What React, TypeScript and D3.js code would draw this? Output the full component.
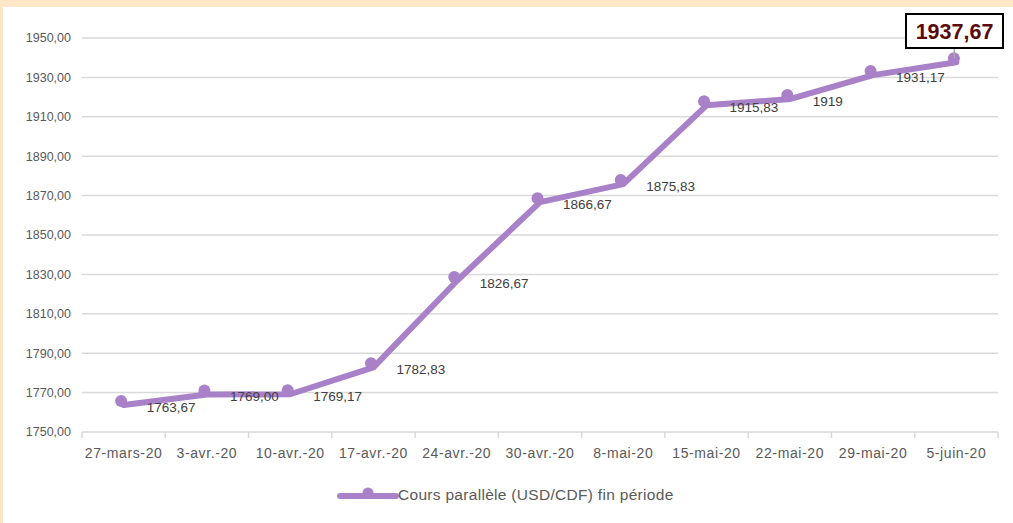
import React from "react";
import * as d3 from "d3";

const categories = [
  "27-mars-20", "3-avr.-20", "10-avr.-20", "17-avr.-20", "24-avr.-20", "30-avr.-20",
  "8-mai-20", "15-mai-20", "22-mai-20", "29-mai-20", "5-juin-20",
];
const values = [1763.67, 1769.0, 1769.17, 1782.83, 1826.67, 1866.67, 1875.83, 1915.83, 1919, 1931.17, 1937.67];
const valueLabels = ["1763,67", "1769,00", "1769,17", "1782,83", "1826,67", "1866,67", "1875,83", "1915,83", "1919", "1931,17", "1937,67"];
const yTicks = [1750, 1770, 1790, 1810, 1830, 1850, 1870, 1890, 1910, 1930, 1950];
const seriesName = "Cours parallèle (USD/CDF) fin période";

const W = 1013;
const H = 523;
const LINE = "#a981c8";
const FONT = "'Liberation Sans', Arial, sans-serif";

export default function App() {
  const x = d3.scaleBand<string>().domain(categories).range([82, 998]);
  const y = d3.scaleLinear().domain([1750, 1950]).range([432, 38]);
  const cx = (i: number) => (x(categories[i]) as number) + x.bandwidth() / 2;
  const line = d3
    .line<number>()
    .x((_, i) => cx(i))
    .y((d) => y(d));
  const last = values.length - 1;
  const boundaries = [...categories.map((c) => x(c) as number), 998];

  return (
    <div style={{ position: "fixed", left: 0, top: 0 }}>
      <svg width={W} height={H} style={{ display: "block" }}>
        <rect x={0} y={0} width={W} height={H} fill="#fee7c6" />
        <rect x={3} y={7} width={W - 3} height={H - 7} fill="#ffffff" />
        {yTicks.map((t) => (
          <g key={t}>
            <line x1={82} x2={998} y1={y(t)} y2={y(t)} stroke="#d9d9d9" strokeWidth={1.5} />
            <text x={71} y={y(t)} dy="0.35em" textAnchor="end" fontFamily={FONT} fontSize={12.5} fill="#595959">
              {d3.format(".2f")(t).replace(".", ",")}
            </text>
          </g>
        ))}
        {boundaries.map((b, i) => (
          <line key={i} x1={b} x2={b} y1={432} y2={438} stroke="#d9d9d9" strokeWidth={1.5} />
        ))}
        {categories.map((c, i) => (
          <text key={c} x={cx(i)} y={458} textAnchor="middle" fontFamily={FONT} fontSize={14} letterSpacing={0.6} fill="#595959">
            {c}
          </text>
        ))}
        <path d={line(values) || ""} fill="none" stroke={LINE} strokeWidth={6} strokeLinejoin="round" strokeLinecap="round" />
        {values.map((v, i) => (
          <circle key={i} cx={cx(i) - 2.5} cy={y(v) - 4} r={6} fill={LINE} />
        ))}
        {values.map((v, i) =>
          i === last ? null : (
            <text key={i} x={cx(i) + 23} y={y(v) + 2} dy="0.35em" fontFamily={FONT} fontSize={13.5} fill="#404040">
              {valueLabels[i]}
            </text>
          )
        )}
        <line x1={cx(last) - 2} x2={cx(last) - 2} y1={48} y2={y(values[last]) - 4} stroke="#a6a6a6" strokeWidth={1.5} />
        <rect x={906} y={14} width={97} height={34} fill="#ffffff" stroke="#000000" strokeWidth={2} />
        <text x={954.5} y={31} dy="0.36em" textAnchor="middle" fontFamily={FONT} fontWeight="bold" fontSize={21.5} fill="#5a0a0a">
          {valueLabels[last]}
        </text>
        <line x1={340} x2={396} y1={496} y2={496} stroke={LINE} strokeWidth={6} strokeLinecap="round" />
        <circle cx={368} cy={493} r={5.5} fill={LINE} />
        <text x={398} y={495} dy="0.35em" fontFamily={FONT} fontSize={15.5} letterSpacing={0.3} fill="#595959">
          {seriesName}
        </text>
      </svg>
    </div>
  );
}
